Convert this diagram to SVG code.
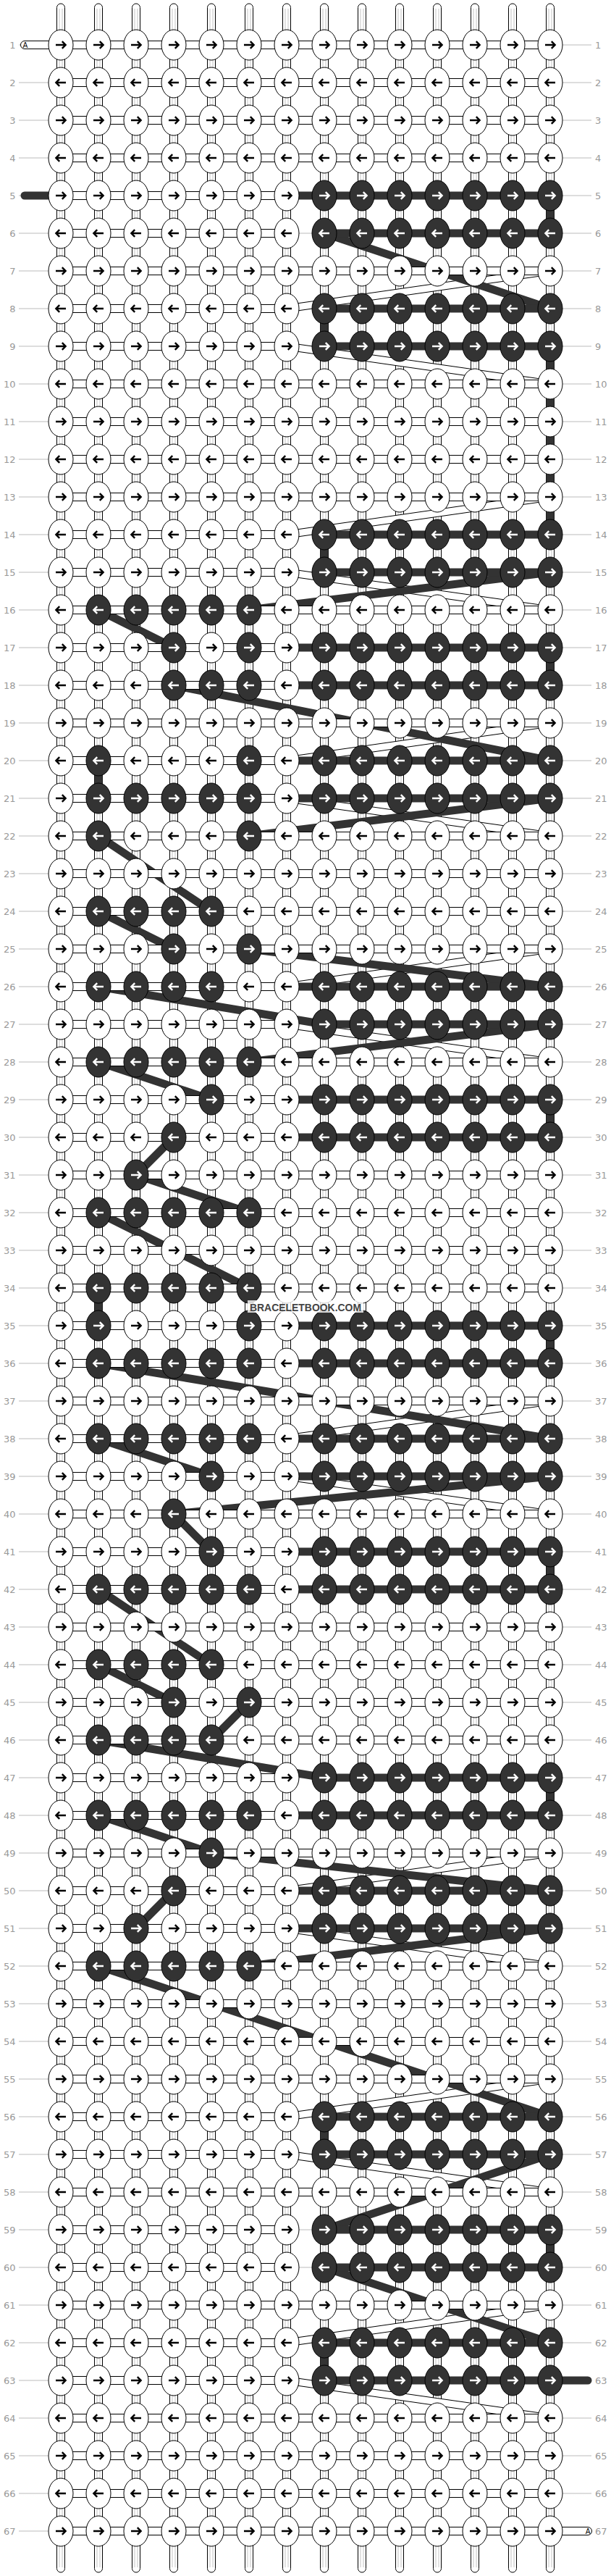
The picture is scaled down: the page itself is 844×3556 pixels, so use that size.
<svg xmlns="http://www.w3.org/2000/svg" width="844" height="3556" viewBox="0 0 844 3556">
<style>
.lb{font-family:"DejaVu Sans",sans-serif;font-size:13px;fill:#999}
.ll{text-anchor:end}
.st{fill:#fff;stroke:#000;stroke-width:1}
.wa{fill:#fff;stroke:#000;stroke-width:1}
.db{fill:#333}
.tg{font-family:"DejaVu Sans",sans-serif;font-size:10px}
</style>
<defs>
<path id="ar" d="M-7,0H6M1.8,-4.8L6.6,0L1.8,4.8" fill="none" stroke-width="2.4"/>
<g id="a"><ellipse rx="17" ry="21" fill="#fff" stroke="#000"/><use href="#ar" stroke="#000"/></g>
<g id="b"><ellipse rx="17" ry="21" fill="#fff" stroke="#000"/><use href="#ar" stroke="#000" transform="scale(-1,1)"/></g>
<g id="c"><ellipse rx="17" ry="21" fill="#333" stroke="#000"/><use href="#ar" stroke="#fff"/></g>
<g id="d"><ellipse rx="17" ry="21" fill="#333" stroke="#000"/><use href="#ar" stroke="#fff" transform="scale(-1,1)"/></g>
<path id="AD" d="M760,374L396,426M396,478L760,530M760,686L396,738M396,790L760,842M760,998L396,1050M396,1102L760,1154M760,1310L396,1362M396,1414L760,1466M760,1934L396,1986M396,2038L760,2090M760,2558L396,2610M396,2662L760,2714M760,2870L396,2922M396,2974L760,3026M760,3182L396,3234M396,3286L760,3338"/>
</defs>
<rect width="844" height="3556" fill="#fff"/>
<g id="rowlines"><path fill="none" stroke="#bbb" stroke-width="1" d="M26,62H817M26,114H817M26,166H817M26,218H817M26,270H817M26,322H817M26,374H817M26,426H817M26,478H817M26,530H817M26,582H817M26,634H817M26,686H817M26,738H817M26,790H817M26,842H817M26,894H817M26,946H817M26,998H817M26,1050H817M26,1102H817M26,1154H817M26,1206H817M26,1258H817M26,1310H817M26,1362H817M26,1414H817M26,1466H817M26,1518H817M26,1570H817M26,1622H817M26,1674H817M26,1726H817M26,1778H817M26,1830H817M26,1882H817M26,1934H817M26,1986H817M26,2038H817M26,2090H817M26,2142H817M26,2194H817M26,2246H817M26,2298H817M26,2350H817M26,2402H817M26,2454H817M26,2506H817M26,2558H817M26,2610H817M26,2662H817M26,2714H817M26,2766H817M26,2818H817M26,2870H817M26,2922H817M26,2974H817M26,3026H817M26,3078H817M26,3130H817M26,3182H817M26,3234H817M26,3286H817M26,3338H817M26,3390H817M26,3442H817M26,3494H817"/></g>
<g id="labels" class="lb">
<g class="ll"><text x="21.5" y="66.5">1</text><text x="21.5" y="118.5">2</text><text x="21.5" y="170.5">3</text><text x="21.5" y="222.5">4</text><text x="21.5" y="274.5">5</text><text x="21.5" y="326.5">6</text><text x="21.5" y="378.5">7</text><text x="21.5" y="430.5">8</text><text x="21.5" y="482.5">9</text><text x="21.5" y="534.5">10</text><text x="21.5" y="586.5">11</text><text x="21.5" y="638.5">12</text><text x="21.5" y="690.5">13</text><text x="21.5" y="742.5">14</text><text x="21.5" y="794.5">15</text><text x="21.5" y="846.5">16</text><text x="21.5" y="898.5">17</text><text x="21.5" y="950.5">18</text><text x="21.5" y="1002.5">19</text><text x="21.5" y="1054.5">20</text><text x="21.5" y="1106.5">21</text><text x="21.5" y="1158.5">22</text><text x="21.5" y="1210.5">23</text><text x="21.5" y="1262.5">24</text><text x="21.5" y="1314.5">25</text><text x="21.5" y="1366.5">26</text><text x="21.5" y="1418.5">27</text><text x="21.5" y="1470.5">28</text><text x="21.5" y="1522.5">29</text><text x="21.5" y="1574.5">30</text><text x="21.5" y="1626.5">31</text><text x="21.5" y="1678.5">32</text><text x="21.5" y="1730.5">33</text><text x="21.5" y="1782.5">34</text><text x="21.5" y="1834.5">35</text><text x="21.5" y="1886.5">36</text><text x="21.5" y="1938.5">37</text><text x="21.5" y="1990.5">38</text><text x="21.5" y="2042.5">39</text><text x="21.5" y="2094.5">40</text><text x="21.5" y="2146.5">41</text><text x="21.5" y="2198.5">42</text><text x="21.5" y="2250.5">43</text><text x="21.5" y="2302.5">44</text><text x="21.5" y="2354.5">45</text><text x="21.5" y="2406.5">46</text><text x="21.5" y="2458.5">47</text><text x="21.5" y="2510.5">48</text><text x="21.5" y="2562.5">49</text><text x="21.5" y="2614.5">50</text><text x="21.5" y="2666.5">51</text><text x="21.5" y="2718.5">52</text><text x="21.5" y="2770.5">53</text><text x="21.5" y="2822.5">54</text><text x="21.5" y="2874.5">55</text><text x="21.5" y="2926.5">56</text><text x="21.5" y="2978.5">57</text><text x="21.5" y="3030.5">58</text><text x="21.5" y="3082.5">59</text><text x="21.5" y="3134.5">60</text><text x="21.5" y="3186.5">61</text><text x="21.5" y="3238.5">62</text><text x="21.5" y="3290.5">63</text><text x="21.5" y="3342.5">64</text><text x="21.5" y="3394.5">65</text><text x="21.5" y="3446.5">66</text><text x="21.5" y="3498.5">67</text></g>
<g><text x="822" y="66.5">1</text><text x="822" y="118.5">2</text><text x="822" y="170.5">3</text><text x="822" y="222.5">4</text><text x="822" y="274.5">5</text><text x="822" y="326.5">6</text><text x="822" y="378.5">7</text><text x="822" y="430.5">8</text><text x="822" y="482.5">9</text><text x="822" y="534.5">10</text><text x="822" y="586.5">11</text><text x="822" y="638.5">12</text><text x="822" y="690.5">13</text><text x="822" y="742.5">14</text><text x="822" y="794.5">15</text><text x="822" y="846.5">16</text><text x="822" y="898.5">17</text><text x="822" y="950.5">18</text><text x="822" y="1002.5">19</text><text x="822" y="1054.5">20</text><text x="822" y="1106.5">21</text><text x="822" y="1158.5">22</text><text x="822" y="1210.5">23</text><text x="822" y="1262.5">24</text><text x="822" y="1314.5">25</text><text x="822" y="1366.5">26</text><text x="822" y="1418.5">27</text><text x="822" y="1470.5">28</text><text x="822" y="1522.5">29</text><text x="822" y="1574.5">30</text><text x="822" y="1626.5">31</text><text x="822" y="1678.5">32</text><text x="822" y="1730.5">33</text><text x="822" y="1782.5">34</text><text x="822" y="1834.5">35</text><text x="822" y="1886.5">36</text><text x="822" y="1938.5">37</text><text x="822" y="1990.5">38</text><text x="822" y="2042.5">39</text><text x="822" y="2094.5">40</text><text x="822" y="2146.5">41</text><text x="822" y="2198.5">42</text><text x="822" y="2250.5">43</text><text x="822" y="2302.5">44</text><text x="822" y="2354.5">45</text><text x="822" y="2406.5">46</text><text x="822" y="2458.5">47</text><text x="822" y="2510.5">48</text><text x="822" y="2562.5">49</text><text x="822" y="2614.5">50</text><text x="822" y="2666.5">51</text><text x="822" y="2718.5">52</text><text x="822" y="2770.5">53</text><text x="822" y="2822.5">54</text><text x="822" y="2874.5">55</text><text x="822" y="2926.5">56</text><text x="822" y="2978.5">57</text><text x="822" y="3030.5">58</text><text x="822" y="3082.5">59</text><text x="822" y="3134.5">60</text><text x="822" y="3186.5">61</text><text x="822" y="3238.5">62</text><text x="822" y="3290.5">63</text><text x="822" y="3342.5">64</text><text x="822" y="3394.5">65</text><text x="822" y="3446.5">66</text><text x="822" y="3498.5">67</text></g>
</g>
<g id="strings">
<g class="st"><rect x="78.5" y="5" width="11" height="3546" rx="5.5"/><rect x="130.5" y="5" width="11" height="3546" rx="5.5"/><rect x="182.5" y="5" width="11" height="3546" rx="5.5"/><rect x="234.5" y="5" width="11" height="3546" rx="5.5"/><rect x="286.5" y="5" width="11" height="3546" rx="5.5"/><rect x="338.5" y="5" width="11" height="3546" rx="5.5"/><rect x="390.5" y="5" width="11" height="3546" rx="5.5"/><rect x="442.5" y="5" width="11" height="3546" rx="5.5"/><rect x="494.5" y="5" width="11" height="3546" rx="5.5"/><rect x="546.5" y="5" width="11" height="3546" rx="5.5"/><rect x="598.5" y="5" width="11" height="3546" rx="5.5"/><rect x="650.5" y="5" width="11" height="3546" rx="5.5"/><rect x="702.5" y="5" width="11" height="3546" rx="5.5"/><rect x="754.5" y="5" width="11" height="3546" rx="5.5"/></g>
<path fill="none" stroke="#c4c4c4" stroke-width="1" d="M82,12V3544M86,12V3544M134,12V3544M138,12V3544M186,12V3544M190,12V3544M238,12V3544M242,12V3544M290,12V3544M294,12V3544M342,12V3544M346,12V3544M394,12V3544M398,12V3544M446,12V3544M450,12V3544M498,12V3544M502,12V3544M550,12V3544M554,12V3544M602,12V3544M606,12V3544M654,12V3544M658,12V3544M706,12V3544M710,12V3544M758,12V3544M762,12V3544"/>
</g>
<g id="connectors">
<use href="#AD" fill="none" stroke="#000" stroke-width="11"/>
<use href="#AD" fill="none" stroke="#fff" stroke-width="9"/>
<path fill="none" stroke="#333" stroke-width="11" d="M760,270V322M448,322L760,426M448,426V478M760,478V738M448,738V790M760,790L344,842M136,842L240,894M760,894V946M240,946L760,1050M136,1050V1102M760,1102L344,1154M136,1154L292,1258M136,1258L240,1310M344,1310L760,1362M136,1362L448,1414M760,1414L344,1466M136,1466L292,1518M760,1518V1570M240,1570L188,1622M188,1622L344,1674M136,1674L344,1778M136,1778V1830M760,1830V1882M136,1882L760,1986M136,1986L292,2038M760,2038L240,2090M240,2090L292,2142M760,2142V2194M136,2194L292,2298M136,2298L240,2350M344,2350L292,2402M136,2402L448,2454M760,2454V2506M136,2506L292,2558M292,2558L760,2610M240,2610L188,2662M760,2662L344,2714M136,2714L760,2922M448,2922V2974M760,2974L448,3078M760,3078V3130M448,3130L760,3234M448,3234V3286"/>
<g class="db">
<rect x="28.5" y="264.5" width="731.5" height="11" rx="5.5"/>
<rect x="448" y="316.5" width="312" height="11"/>
<rect x="448" y="420.5" width="312" height="11"/>
<rect x="448" y="472.5" width="312" height="11"/>
<rect x="448" y="732.5" width="312" height="11"/>
<rect x="448" y="784.5" width="312" height="11"/>
<rect x="240" y="888.5" width="520" height="11"/>
<rect x="240" y="940.5" width="520" height="11"/>
<rect x="136" y="1044.5" width="624" height="11"/>
<rect x="136" y="1096.5" width="624" height="11"/>
<rect x="136" y="1356.5" width="624" height="11"/>
<rect x="448" y="1408.5" width="312" height="11"/>
<rect x="292" y="1512.5" width="468" height="11"/>
<rect x="240" y="1564.5" width="520" height="11"/>
<rect x="136" y="1824.5" width="624" height="11"/>
<rect x="136" y="1876.5" width="624" height="11"/>
<rect x="136" y="1980.5" width="624" height="11"/>
<rect x="292" y="2032.5" width="468" height="11"/>
<rect x="292" y="2136.5" width="468" height="11"/>
<rect x="136" y="2188.5" width="624" height="11"/>
<rect x="448" y="2448.5" width="312" height="11"/>
<rect x="136" y="2500.5" width="624" height="11"/>
<rect x="240" y="2604.5" width="520" height="11"/>
<rect x="188" y="2656.5" width="572" height="11"/>
<rect x="448" y="2916.5" width="312" height="11"/>
<rect x="448" y="2968.5" width="312" height="11"/>
<rect x="448" y="3072.5" width="312" height="11"/>
<rect x="448" y="3124.5" width="312" height="11"/>
<rect x="448" y="3228.5" width="312" height="11"/>
<rect x="448" y="3280.5" width="369.5" height="11" rx="5.5"/>
</g>
<g class="wa">
<rect x="28.5" y="56.5" width="731.5" height="11" rx="5.5"/>
<rect x="84" y="108.5" width="676" height="11"/>
<rect x="84" y="160.5" width="676" height="11"/>
<rect x="84" y="212.5" width="676" height="11"/>
<rect x="84" y="264.5" width="312" height="11"/>
<rect x="84" y="316.5" width="312" height="11"/>
<rect x="84" y="368.5" width="676" height="11"/>
<rect x="84" y="420.5" width="312" height="11"/>
<rect x="84" y="472.5" width="312" height="11"/>
<rect x="84" y="524.5" width="676" height="11"/>
<rect x="84" y="576.5" width="676" height="11"/>
<rect x="84" y="628.5" width="676" height="11"/>
<rect x="84" y="680.5" width="676" height="11"/>
<rect x="84" y="732.5" width="312" height="11"/>
<rect x="84" y="784.5" width="312" height="11"/>
<rect x="84" y="836.5" width="676" height="11"/>
<rect x="84" y="888.5" width="312" height="11"/>
<rect x="84" y="940.5" width="312" height="11"/>
<rect x="84" y="992.5" width="676" height="11"/>
<rect x="84" y="1044.5" width="312" height="11"/>
<rect x="84" y="1096.5" width="312" height="11"/>
<rect x="84" y="1148.5" width="676" height="11"/>
<rect x="84" y="1200.5" width="676" height="11"/>
<rect x="84" y="1252.5" width="676" height="11"/>
<rect x="84" y="1304.5" width="676" height="11"/>
<rect x="84" y="1356.5" width="312" height="11"/>
<rect x="84" y="1408.5" width="312" height="11"/>
<rect x="84" y="1460.5" width="676" height="11"/>
<rect x="84" y="1512.5" width="312" height="11"/>
<rect x="84" y="1564.5" width="312" height="11"/>
<rect x="84" y="1616.5" width="676" height="11"/>
<rect x="84" y="1668.5" width="676" height="11"/>
<rect x="84" y="1720.5" width="676" height="11"/>
<rect x="84" y="1772.5" width="676" height="11"/>
<rect x="84" y="1824.5" width="312" height="11"/>
<rect x="84" y="1876.5" width="312" height="11"/>
<rect x="84" y="1928.5" width="676" height="11"/>
<rect x="84" y="1980.5" width="312" height="11"/>
<rect x="84" y="2032.5" width="312" height="11"/>
<rect x="84" y="2084.5" width="676" height="11"/>
<rect x="84" y="2136.5" width="312" height="11"/>
<rect x="84" y="2188.5" width="312" height="11"/>
<rect x="84" y="2240.5" width="676" height="11"/>
<rect x="84" y="2292.5" width="676" height="11"/>
<rect x="84" y="2344.5" width="676" height="11"/>
<rect x="84" y="2396.5" width="676" height="11"/>
<rect x="84" y="2448.5" width="312" height="11"/>
<rect x="84" y="2500.5" width="312" height="11"/>
<rect x="84" y="2552.5" width="676" height="11"/>
<rect x="84" y="2604.5" width="312" height="11"/>
<rect x="84" y="2656.5" width="312" height="11"/>
<rect x="84" y="2708.5" width="676" height="11"/>
<rect x="84" y="2760.5" width="676" height="11"/>
<rect x="84" y="2812.5" width="676" height="11"/>
<rect x="84" y="2864.5" width="676" height="11"/>
<rect x="84" y="2916.5" width="312" height="11"/>
<rect x="84" y="2968.5" width="312" height="11"/>
<rect x="84" y="3020.5" width="676" height="11"/>
<rect x="84" y="3072.5" width="312" height="11"/>
<rect x="84" y="3124.5" width="312" height="11"/>
<rect x="84" y="3176.5" width="676" height="11"/>
<rect x="84" y="3228.5" width="312" height="11"/>
<rect x="84" y="3280.5" width="312" height="11"/>
<rect x="84" y="3332.5" width="676" height="11"/>
<rect x="84" y="3384.5" width="676" height="11"/>
<rect x="84" y="3436.5" width="676" height="11"/>
<rect x="84" y="3488.5" width="733.5" height="11" rx="5.5"/>
</g>
<text class="tg" x="31.5" y="65.8">A</text>
<text class="tg" x="815.5" y="3497.8" text-anchor="end">A</text>
</g>
<g id="knots">
<g id="row1" transform="translate(0,62)"><g id="n1_1"><use href="#a" x="84"/></g><g id="n1_2"><use href="#a" x="136"/></g><g id="n1_3"><use href="#a" x="188"/></g><g id="n1_4"><use href="#a" x="240"/></g><g id="n1_5"><use href="#a" x="292"/></g><g id="n1_6"><use href="#a" x="344"/></g><g id="n1_7"><use href="#a" x="396"/></g><g id="n1_8"><use href="#a" x="448"/></g><g id="n1_9"><use href="#a" x="500"/></g><g id="n1_10"><use href="#a" x="552"/></g><g id="n1_11"><use href="#a" x="604"/></g><g id="n1_12"><use href="#a" x="656"/></g><g id="n1_13"><use href="#a" x="708"/></g><g id="n1_14"><use href="#a" x="760"/></g></g>
<g id="row2" transform="translate(0,114)"><g id="n2_1"><use href="#b" x="84"/></g><g id="n2_2"><use href="#b" x="136"/></g><g id="n2_3"><use href="#b" x="188"/></g><g id="n2_4"><use href="#b" x="240"/></g><g id="n2_5"><use href="#b" x="292"/></g><g id="n2_6"><use href="#b" x="344"/></g><g id="n2_7"><use href="#b" x="396"/></g><g id="n2_8"><use href="#b" x="448"/></g><g id="n2_9"><use href="#b" x="500"/></g><g id="n2_10"><use href="#b" x="552"/></g><g id="n2_11"><use href="#b" x="604"/></g><g id="n2_12"><use href="#b" x="656"/></g><g id="n2_13"><use href="#b" x="708"/></g><g id="n2_14"><use href="#b" x="760"/></g></g>
<g id="row3" transform="translate(0,166)"><g id="n3_1"><use href="#a" x="84"/></g><g id="n3_2"><use href="#a" x="136"/></g><g id="n3_3"><use href="#a" x="188"/></g><g id="n3_4"><use href="#a" x="240"/></g><g id="n3_5"><use href="#a" x="292"/></g><g id="n3_6"><use href="#a" x="344"/></g><g id="n3_7"><use href="#a" x="396"/></g><g id="n3_8"><use href="#a" x="448"/></g><g id="n3_9"><use href="#a" x="500"/></g><g id="n3_10"><use href="#a" x="552"/></g><g id="n3_11"><use href="#a" x="604"/></g><g id="n3_12"><use href="#a" x="656"/></g><g id="n3_13"><use href="#a" x="708"/></g><g id="n3_14"><use href="#a" x="760"/></g></g>
<g id="row4" transform="translate(0,218)"><g id="n4_1"><use href="#b" x="84"/></g><g id="n4_2"><use href="#b" x="136"/></g><g id="n4_3"><use href="#b" x="188"/></g><g id="n4_4"><use href="#b" x="240"/></g><g id="n4_5"><use href="#b" x="292"/></g><g id="n4_6"><use href="#b" x="344"/></g><g id="n4_7"><use href="#b" x="396"/></g><g id="n4_8"><use href="#b" x="448"/></g><g id="n4_9"><use href="#b" x="500"/></g><g id="n4_10"><use href="#b" x="552"/></g><g id="n4_11"><use href="#b" x="604"/></g><g id="n4_12"><use href="#b" x="656"/></g><g id="n4_13"><use href="#b" x="708"/></g><g id="n4_14"><use href="#b" x="760"/></g></g>
<g id="row5" transform="translate(0,270)"><g id="n5_1"><use href="#a" x="84"/></g><g id="n5_2"><use href="#a" x="136"/></g><g id="n5_3"><use href="#a" x="188"/></g><g id="n5_4"><use href="#a" x="240"/></g><g id="n5_5"><use href="#a" x="292"/></g><g id="n5_6"><use href="#a" x="344"/></g><g id="n5_7"><use href="#a" x="396"/></g><g id="n5_8"><use href="#c" x="448"/></g><g id="n5_9"><use href="#c" x="500"/></g><g id="n5_10"><use href="#c" x="552"/></g><g id="n5_11"><use href="#c" x="604"/></g><g id="n5_12"><use href="#c" x="656"/></g><g id="n5_13"><use href="#c" x="708"/></g><g id="n5_14"><use href="#c" x="760"/></g></g>
<g id="row6" transform="translate(0,322)"><g id="n6_1"><use href="#b" x="84"/></g><g id="n6_2"><use href="#b" x="136"/></g><g id="n6_3"><use href="#b" x="188"/></g><g id="n6_4"><use href="#b" x="240"/></g><g id="n6_5"><use href="#b" x="292"/></g><g id="n6_6"><use href="#b" x="344"/></g><g id="n6_7"><use href="#b" x="396"/></g><g id="n6_8"><use href="#d" x="448"/></g><g id="n6_9"><use href="#d" x="500"/></g><g id="n6_10"><use href="#d" x="552"/></g><g id="n6_11"><use href="#d" x="604"/></g><g id="n6_12"><use href="#d" x="656"/></g><g id="n6_13"><use href="#d" x="708"/></g><g id="n6_14"><use href="#d" x="760"/></g></g>
<g id="row7" transform="translate(0,374)"><g id="n7_1"><use href="#a" x="84"/></g><g id="n7_2"><use href="#a" x="136"/></g><g id="n7_3"><use href="#a" x="188"/></g><g id="n7_4"><use href="#a" x="240"/></g><g id="n7_5"><use href="#a" x="292"/></g><g id="n7_6"><use href="#a" x="344"/></g><g id="n7_7"><use href="#a" x="396"/></g><g id="n7_8"><use href="#a" x="448"/></g><g id="n7_9"><use href="#a" x="500"/></g><g id="n7_10"><use href="#a" x="552"/></g><g id="n7_11"><use href="#a" x="604"/></g><g id="n7_12"><use href="#a" x="656"/></g><g id="n7_13"><use href="#a" x="708"/></g><g id="n7_14"><use href="#a" x="760"/></g></g>
<g id="row8" transform="translate(0,426)"><g id="n8_1"><use href="#b" x="84"/></g><g id="n8_2"><use href="#b" x="136"/></g><g id="n8_3"><use href="#b" x="188"/></g><g id="n8_4"><use href="#b" x="240"/></g><g id="n8_5"><use href="#b" x="292"/></g><g id="n8_6"><use href="#b" x="344"/></g><g id="n8_7"><use href="#b" x="396"/></g><g id="n8_8"><use href="#d" x="448"/></g><g id="n8_9"><use href="#d" x="500"/></g><g id="n8_10"><use href="#d" x="552"/></g><g id="n8_11"><use href="#d" x="604"/></g><g id="n8_12"><use href="#d" x="656"/></g><g id="n8_13"><use href="#d" x="708"/></g><g id="n8_14"><use href="#d" x="760"/></g></g>
<g id="row9" transform="translate(0,478)"><g id="n9_1"><use href="#a" x="84"/></g><g id="n9_2"><use href="#a" x="136"/></g><g id="n9_3"><use href="#a" x="188"/></g><g id="n9_4"><use href="#a" x="240"/></g><g id="n9_5"><use href="#a" x="292"/></g><g id="n9_6"><use href="#a" x="344"/></g><g id="n9_7"><use href="#a" x="396"/></g><g id="n9_8"><use href="#c" x="448"/></g><g id="n9_9"><use href="#c" x="500"/></g><g id="n9_10"><use href="#c" x="552"/></g><g id="n9_11"><use href="#c" x="604"/></g><g id="n9_12"><use href="#c" x="656"/></g><g id="n9_13"><use href="#c" x="708"/></g><g id="n9_14"><use href="#c" x="760"/></g></g>
<g id="row10" transform="translate(0,530)"><g id="n10_1"><use href="#b" x="84"/></g><g id="n10_2"><use href="#b" x="136"/></g><g id="n10_3"><use href="#b" x="188"/></g><g id="n10_4"><use href="#b" x="240"/></g><g id="n10_5"><use href="#b" x="292"/></g><g id="n10_6"><use href="#b" x="344"/></g><g id="n10_7"><use href="#b" x="396"/></g><g id="n10_8"><use href="#b" x="448"/></g><g id="n10_9"><use href="#b" x="500"/></g><g id="n10_10"><use href="#b" x="552"/></g><g id="n10_11"><use href="#b" x="604"/></g><g id="n10_12"><use href="#b" x="656"/></g><g id="n10_13"><use href="#b" x="708"/></g><g id="n10_14"><use href="#b" x="760"/></g></g>
<g id="row11" transform="translate(0,582)"><g id="n11_1"><use href="#a" x="84"/></g><g id="n11_2"><use href="#a" x="136"/></g><g id="n11_3"><use href="#a" x="188"/></g><g id="n11_4"><use href="#a" x="240"/></g><g id="n11_5"><use href="#a" x="292"/></g><g id="n11_6"><use href="#a" x="344"/></g><g id="n11_7"><use href="#a" x="396"/></g><g id="n11_8"><use href="#a" x="448"/></g><g id="n11_9"><use href="#a" x="500"/></g><g id="n11_10"><use href="#a" x="552"/></g><g id="n11_11"><use href="#a" x="604"/></g><g id="n11_12"><use href="#a" x="656"/></g><g id="n11_13"><use href="#a" x="708"/></g><g id="n11_14"><use href="#a" x="760"/></g></g>
<g id="row12" transform="translate(0,634)"><g id="n12_1"><use href="#b" x="84"/></g><g id="n12_2"><use href="#b" x="136"/></g><g id="n12_3"><use href="#b" x="188"/></g><g id="n12_4"><use href="#b" x="240"/></g><g id="n12_5"><use href="#b" x="292"/></g><g id="n12_6"><use href="#b" x="344"/></g><g id="n12_7"><use href="#b" x="396"/></g><g id="n12_8"><use href="#b" x="448"/></g><g id="n12_9"><use href="#b" x="500"/></g><g id="n12_10"><use href="#b" x="552"/></g><g id="n12_11"><use href="#b" x="604"/></g><g id="n12_12"><use href="#b" x="656"/></g><g id="n12_13"><use href="#b" x="708"/></g><g id="n12_14"><use href="#b" x="760"/></g></g>
<g id="row13" transform="translate(0,686)"><g id="n13_1"><use href="#a" x="84"/></g><g id="n13_2"><use href="#a" x="136"/></g><g id="n13_3"><use href="#a" x="188"/></g><g id="n13_4"><use href="#a" x="240"/></g><g id="n13_5"><use href="#a" x="292"/></g><g id="n13_6"><use href="#a" x="344"/></g><g id="n13_7"><use href="#a" x="396"/></g><g id="n13_8"><use href="#a" x="448"/></g><g id="n13_9"><use href="#a" x="500"/></g><g id="n13_10"><use href="#a" x="552"/></g><g id="n13_11"><use href="#a" x="604"/></g><g id="n13_12"><use href="#a" x="656"/></g><g id="n13_13"><use href="#a" x="708"/></g><g id="n13_14"><use href="#a" x="760"/></g></g>
<g id="row14" transform="translate(0,738)"><g id="n14_1"><use href="#b" x="84"/></g><g id="n14_2"><use href="#b" x="136"/></g><g id="n14_3"><use href="#b" x="188"/></g><g id="n14_4"><use href="#b" x="240"/></g><g id="n14_5"><use href="#b" x="292"/></g><g id="n14_6"><use href="#b" x="344"/></g><g id="n14_7"><use href="#b" x="396"/></g><g id="n14_8"><use href="#d" x="448"/></g><g id="n14_9"><use href="#d" x="500"/></g><g id="n14_10"><use href="#d" x="552"/></g><g id="n14_11"><use href="#d" x="604"/></g><g id="n14_12"><use href="#d" x="656"/></g><g id="n14_13"><use href="#d" x="708"/></g><g id="n14_14"><use href="#d" x="760"/></g></g>
<g id="row15" transform="translate(0,790)"><g id="n15_1"><use href="#a" x="84"/></g><g id="n15_2"><use href="#a" x="136"/></g><g id="n15_3"><use href="#a" x="188"/></g><g id="n15_4"><use href="#a" x="240"/></g><g id="n15_5"><use href="#a" x="292"/></g><g id="n15_6"><use href="#a" x="344"/></g><g id="n15_7"><use href="#a" x="396"/></g><g id="n15_8"><use href="#c" x="448"/></g><g id="n15_9"><use href="#c" x="500"/></g><g id="n15_10"><use href="#c" x="552"/></g><g id="n15_11"><use href="#c" x="604"/></g><g id="n15_12"><use href="#c" x="656"/></g><g id="n15_13"><use href="#c" x="708"/></g><g id="n15_14"><use href="#c" x="760"/></g></g>
<g id="row16" transform="translate(0,842)"><g id="n16_1"><use href="#b" x="84"/></g><g id="n16_2"><use href="#d" x="136"/></g><g id="n16_3"><use href="#d" x="188"/></g><g id="n16_4"><use href="#d" x="240"/></g><g id="n16_5"><use href="#d" x="292"/></g><g id="n16_6"><use href="#d" x="344"/></g><g id="n16_7"><use href="#b" x="396"/></g><g id="n16_8"><use href="#b" x="448"/></g><g id="n16_9"><use href="#b" x="500"/></g><g id="n16_10"><use href="#b" x="552"/></g><g id="n16_11"><use href="#b" x="604"/></g><g id="n16_12"><use href="#b" x="656"/></g><g id="n16_13"><use href="#b" x="708"/></g><g id="n16_14"><use href="#b" x="760"/></g></g>
<g id="row17" transform="translate(0,894)"><g id="n17_1"><use href="#a" x="84"/></g><g id="n17_2"><use href="#a" x="136"/></g><g id="n17_3"><use href="#a" x="188"/></g><g id="n17_4"><use href="#c" x="240"/></g><g id="n17_5"><use href="#a" x="292"/></g><g id="n17_6"><use href="#c" x="344"/></g><g id="n17_7"><use href="#a" x="396"/></g><g id="n17_8"><use href="#c" x="448"/></g><g id="n17_9"><use href="#c" x="500"/></g><g id="n17_10"><use href="#c" x="552"/></g><g id="n17_11"><use href="#c" x="604"/></g><g id="n17_12"><use href="#c" x="656"/></g><g id="n17_13"><use href="#c" x="708"/></g><g id="n17_14"><use href="#c" x="760"/></g></g>
<g id="row18" transform="translate(0,946)"><g id="n18_1"><use href="#b" x="84"/></g><g id="n18_2"><use href="#b" x="136"/></g><g id="n18_3"><use href="#b" x="188"/></g><g id="n18_4"><use href="#d" x="240"/></g><g id="n18_5"><use href="#d" x="292"/></g><g id="n18_6"><use href="#d" x="344"/></g><g id="n18_7"><use href="#b" x="396"/></g><g id="n18_8"><use href="#d" x="448"/></g><g id="n18_9"><use href="#d" x="500"/></g><g id="n18_10"><use href="#d" x="552"/></g><g id="n18_11"><use href="#d" x="604"/></g><g id="n18_12"><use href="#d" x="656"/></g><g id="n18_13"><use href="#d" x="708"/></g><g id="n18_14"><use href="#d" x="760"/></g></g>
<g id="row19" transform="translate(0,998)"><g id="n19_1"><use href="#a" x="84"/></g><g id="n19_2"><use href="#a" x="136"/></g><g id="n19_3"><use href="#a" x="188"/></g><g id="n19_4"><use href="#a" x="240"/></g><g id="n19_5"><use href="#a" x="292"/></g><g id="n19_6"><use href="#a" x="344"/></g><g id="n19_7"><use href="#a" x="396"/></g><g id="n19_8"><use href="#a" x="448"/></g><g id="n19_9"><use href="#a" x="500"/></g><g id="n19_10"><use href="#a" x="552"/></g><g id="n19_11"><use href="#a" x="604"/></g><g id="n19_12"><use href="#a" x="656"/></g><g id="n19_13"><use href="#a" x="708"/></g><g id="n19_14"><use href="#a" x="760"/></g></g>
<g id="row20" transform="translate(0,1050)"><g id="n20_1"><use href="#b" x="84"/></g><g id="n20_2"><use href="#d" x="136"/></g><g id="n20_3"><use href="#b" x="188"/></g><g id="n20_4"><use href="#b" x="240"/></g><g id="n20_5"><use href="#b" x="292"/></g><g id="n20_6"><use href="#d" x="344"/></g><g id="n20_7"><use href="#b" x="396"/></g><g id="n20_8"><use href="#d" x="448"/></g><g id="n20_9"><use href="#d" x="500"/></g><g id="n20_10"><use href="#d" x="552"/></g><g id="n20_11"><use href="#d" x="604"/></g><g id="n20_12"><use href="#d" x="656"/></g><g id="n20_13"><use href="#d" x="708"/></g><g id="n20_14"><use href="#d" x="760"/></g></g>
<g id="row21" transform="translate(0,1102)"><g id="n21_1"><use href="#a" x="84"/></g><g id="n21_2"><use href="#c" x="136"/></g><g id="n21_3"><use href="#c" x="188"/></g><g id="n21_4"><use href="#c" x="240"/></g><g id="n21_5"><use href="#c" x="292"/></g><g id="n21_6"><use href="#c" x="344"/></g><g id="n21_7"><use href="#a" x="396"/></g><g id="n21_8"><use href="#c" x="448"/></g><g id="n21_9"><use href="#c" x="500"/></g><g id="n21_10"><use href="#c" x="552"/></g><g id="n21_11"><use href="#c" x="604"/></g><g id="n21_12"><use href="#c" x="656"/></g><g id="n21_13"><use href="#c" x="708"/></g><g id="n21_14"><use href="#c" x="760"/></g></g>
<g id="row22" transform="translate(0,1154)"><g id="n22_1"><use href="#b" x="84"/></g><g id="n22_2"><use href="#d" x="136"/></g><g id="n22_3"><use href="#b" x="188"/></g><g id="n22_4"><use href="#b" x="240"/></g><g id="n22_5"><use href="#b" x="292"/></g><g id="n22_6"><use href="#d" x="344"/></g><g id="n22_7"><use href="#b" x="396"/></g><g id="n22_8"><use href="#b" x="448"/></g><g id="n22_9"><use href="#b" x="500"/></g><g id="n22_10"><use href="#b" x="552"/></g><g id="n22_11"><use href="#b" x="604"/></g><g id="n22_12"><use href="#b" x="656"/></g><g id="n22_13"><use href="#b" x="708"/></g><g id="n22_14"><use href="#b" x="760"/></g></g>
<g id="row23" transform="translate(0,1206)"><g id="n23_1"><use href="#a" x="84"/></g><g id="n23_2"><use href="#a" x="136"/></g><g id="n23_3"><use href="#a" x="188"/></g><g id="n23_4"><use href="#a" x="240"/></g><g id="n23_5"><use href="#a" x="292"/></g><g id="n23_6"><use href="#a" x="344"/></g><g id="n23_7"><use href="#a" x="396"/></g><g id="n23_8"><use href="#a" x="448"/></g><g id="n23_9"><use href="#a" x="500"/></g><g id="n23_10"><use href="#a" x="552"/></g><g id="n23_11"><use href="#a" x="604"/></g><g id="n23_12"><use href="#a" x="656"/></g><g id="n23_13"><use href="#a" x="708"/></g><g id="n23_14"><use href="#a" x="760"/></g></g>
<g id="row24" transform="translate(0,1258)"><g id="n24_1"><use href="#b" x="84"/></g><g id="n24_2"><use href="#d" x="136"/></g><g id="n24_3"><use href="#d" x="188"/></g><g id="n24_4"><use href="#d" x="240"/></g><g id="n24_5"><use href="#d" x="292"/></g><g id="n24_6"><use href="#b" x="344"/></g><g id="n24_7"><use href="#b" x="396"/></g><g id="n24_8"><use href="#b" x="448"/></g><g id="n24_9"><use href="#b" x="500"/></g><g id="n24_10"><use href="#b" x="552"/></g><g id="n24_11"><use href="#b" x="604"/></g><g id="n24_12"><use href="#b" x="656"/></g><g id="n24_13"><use href="#b" x="708"/></g><g id="n24_14"><use href="#b" x="760"/></g></g>
<g id="row25" transform="translate(0,1310)"><g id="n25_1"><use href="#a" x="84"/></g><g id="n25_2"><use href="#a" x="136"/></g><g id="n25_3"><use href="#a" x="188"/></g><g id="n25_4"><use href="#c" x="240"/></g><g id="n25_5"><use href="#a" x="292"/></g><g id="n25_6"><use href="#c" x="344"/></g><g id="n25_7"><use href="#a" x="396"/></g><g id="n25_8"><use href="#a" x="448"/></g><g id="n25_9"><use href="#a" x="500"/></g><g id="n25_10"><use href="#a" x="552"/></g><g id="n25_11"><use href="#a" x="604"/></g><g id="n25_12"><use href="#a" x="656"/></g><g id="n25_13"><use href="#a" x="708"/></g><g id="n25_14"><use href="#a" x="760"/></g></g>
<g id="row26" transform="translate(0,1362)"><g id="n26_1"><use href="#b" x="84"/></g><g id="n26_2"><use href="#d" x="136"/></g><g id="n26_3"><use href="#d" x="188"/></g><g id="n26_4"><use href="#d" x="240"/></g><g id="n26_5"><use href="#d" x="292"/></g><g id="n26_6"><use href="#b" x="344"/></g><g id="n26_7"><use href="#b" x="396"/></g><g id="n26_8"><use href="#d" x="448"/></g><g id="n26_9"><use href="#d" x="500"/></g><g id="n26_10"><use href="#d" x="552"/></g><g id="n26_11"><use href="#d" x="604"/></g><g id="n26_12"><use href="#d" x="656"/></g><g id="n26_13"><use href="#d" x="708"/></g><g id="n26_14"><use href="#d" x="760"/></g></g>
<g id="row27" transform="translate(0,1414)"><g id="n27_1"><use href="#a" x="84"/></g><g id="n27_2"><use href="#a" x="136"/></g><g id="n27_3"><use href="#a" x="188"/></g><g id="n27_4"><use href="#a" x="240"/></g><g id="n27_5"><use href="#a" x="292"/></g><g id="n27_6"><use href="#a" x="344"/></g><g id="n27_7"><use href="#a" x="396"/></g><g id="n27_8"><use href="#c" x="448"/></g><g id="n27_9"><use href="#c" x="500"/></g><g id="n27_10"><use href="#c" x="552"/></g><g id="n27_11"><use href="#c" x="604"/></g><g id="n27_12"><use href="#c" x="656"/></g><g id="n27_13"><use href="#c" x="708"/></g><g id="n27_14"><use href="#c" x="760"/></g></g>
<g id="row28" transform="translate(0,1466)"><g id="n28_1"><use href="#b" x="84"/></g><g id="n28_2"><use href="#d" x="136"/></g><g id="n28_3"><use href="#d" x="188"/></g><g id="n28_4"><use href="#d" x="240"/></g><g id="n28_5"><use href="#d" x="292"/></g><g id="n28_6"><use href="#d" x="344"/></g><g id="n28_7"><use href="#b" x="396"/></g><g id="n28_8"><use href="#b" x="448"/></g><g id="n28_9"><use href="#b" x="500"/></g><g id="n28_10"><use href="#b" x="552"/></g><g id="n28_11"><use href="#b" x="604"/></g><g id="n28_12"><use href="#b" x="656"/></g><g id="n28_13"><use href="#b" x="708"/></g><g id="n28_14"><use href="#b" x="760"/></g></g>
<g id="row29" transform="translate(0,1518)"><g id="n29_1"><use href="#a" x="84"/></g><g id="n29_2"><use href="#a" x="136"/></g><g id="n29_3"><use href="#a" x="188"/></g><g id="n29_4"><use href="#a" x="240"/></g><g id="n29_5"><use href="#c" x="292"/></g><g id="n29_6"><use href="#a" x="344"/></g><g id="n29_7"><use href="#a" x="396"/></g><g id="n29_8"><use href="#c" x="448"/></g><g id="n29_9"><use href="#c" x="500"/></g><g id="n29_10"><use href="#c" x="552"/></g><g id="n29_11"><use href="#c" x="604"/></g><g id="n29_12"><use href="#c" x="656"/></g><g id="n29_13"><use href="#c" x="708"/></g><g id="n29_14"><use href="#c" x="760"/></g></g>
<g id="row30" transform="translate(0,1570)"><g id="n30_1"><use href="#b" x="84"/></g><g id="n30_2"><use href="#b" x="136"/></g><g id="n30_3"><use href="#b" x="188"/></g><g id="n30_4"><use href="#d" x="240"/></g><g id="n30_5"><use href="#b" x="292"/></g><g id="n30_6"><use href="#b" x="344"/></g><g id="n30_7"><use href="#b" x="396"/></g><g id="n30_8"><use href="#d" x="448"/></g><g id="n30_9"><use href="#d" x="500"/></g><g id="n30_10"><use href="#d" x="552"/></g><g id="n30_11"><use href="#d" x="604"/></g><g id="n30_12"><use href="#d" x="656"/></g><g id="n30_13"><use href="#d" x="708"/></g><g id="n30_14"><use href="#d" x="760"/></g></g>
<g id="row31" transform="translate(0,1622)"><g id="n31_1"><use href="#a" x="84"/></g><g id="n31_2"><use href="#a" x="136"/></g><g id="n31_3"><use href="#c" x="188"/></g><g id="n31_4"><use href="#a" x="240"/></g><g id="n31_5"><use href="#a" x="292"/></g><g id="n31_6"><use href="#a" x="344"/></g><g id="n31_7"><use href="#a" x="396"/></g><g id="n31_8"><use href="#a" x="448"/></g><g id="n31_9"><use href="#a" x="500"/></g><g id="n31_10"><use href="#a" x="552"/></g><g id="n31_11"><use href="#a" x="604"/></g><g id="n31_12"><use href="#a" x="656"/></g><g id="n31_13"><use href="#a" x="708"/></g><g id="n31_14"><use href="#a" x="760"/></g></g>
<g id="row32" transform="translate(0,1674)"><g id="n32_1"><use href="#b" x="84"/></g><g id="n32_2"><use href="#d" x="136"/></g><g id="n32_3"><use href="#d" x="188"/></g><g id="n32_4"><use href="#d" x="240"/></g><g id="n32_5"><use href="#d" x="292"/></g><g id="n32_6"><use href="#d" x="344"/></g><g id="n32_7"><use href="#b" x="396"/></g><g id="n32_8"><use href="#b" x="448"/></g><g id="n32_9"><use href="#b" x="500"/></g><g id="n32_10"><use href="#b" x="552"/></g><g id="n32_11"><use href="#b" x="604"/></g><g id="n32_12"><use href="#b" x="656"/></g><g id="n32_13"><use href="#b" x="708"/></g><g id="n32_14"><use href="#b" x="760"/></g></g>
<g id="row33" transform="translate(0,1726)"><g id="n33_1"><use href="#a" x="84"/></g><g id="n33_2"><use href="#a" x="136"/></g><g id="n33_3"><use href="#a" x="188"/></g><g id="n33_4"><use href="#a" x="240"/></g><g id="n33_5"><use href="#a" x="292"/></g><g id="n33_6"><use href="#a" x="344"/></g><g id="n33_7"><use href="#a" x="396"/></g><g id="n33_8"><use href="#a" x="448"/></g><g id="n33_9"><use href="#a" x="500"/></g><g id="n33_10"><use href="#a" x="552"/></g><g id="n33_11"><use href="#a" x="604"/></g><g id="n33_12"><use href="#a" x="656"/></g><g id="n33_13"><use href="#a" x="708"/></g><g id="n33_14"><use href="#a" x="760"/></g></g>
<g id="row34" transform="translate(0,1778)"><g id="n34_1"><use href="#b" x="84"/></g><g id="n34_2"><use href="#d" x="136"/></g><g id="n34_3"><use href="#d" x="188"/></g><g id="n34_4"><use href="#d" x="240"/></g><g id="n34_5"><use href="#d" x="292"/></g><g id="n34_6"><use href="#d" x="344"/></g><g id="n34_7"><use href="#b" x="396"/></g><g id="n34_8"><use href="#b" x="448"/></g><g id="n34_9"><use href="#b" x="500"/></g><g id="n34_10"><use href="#b" x="552"/></g><g id="n34_11"><use href="#b" x="604"/></g><g id="n34_12"><use href="#b" x="656"/></g><g id="n34_13"><use href="#b" x="708"/></g><g id="n34_14"><use href="#b" x="760"/></g></g>
<g id="row35" transform="translate(0,1830)"><g id="n35_1"><use href="#a" x="84"/></g><g id="n35_2"><use href="#c" x="136"/></g><g id="n35_3"><use href="#a" x="188"/></g><g id="n35_4"><use href="#a" x="240"/></g><g id="n35_5"><use href="#a" x="292"/></g><g id="n35_6"><use href="#c" x="344"/></g><g id="n35_7"><use href="#a" x="396"/></g><g id="n35_8"><use href="#c" x="448"/></g><g id="n35_9"><use href="#c" x="500"/></g><g id="n35_10"><use href="#c" x="552"/></g><g id="n35_11"><use href="#c" x="604"/></g><g id="n35_12"><use href="#c" x="656"/></g><g id="n35_13"><use href="#c" x="708"/></g><g id="n35_14"><use href="#c" x="760"/></g></g>
<g id="row36" transform="translate(0,1882)"><g id="n36_1"><use href="#b" x="84"/></g><g id="n36_2"><use href="#d" x="136"/></g><g id="n36_3"><use href="#d" x="188"/></g><g id="n36_4"><use href="#d" x="240"/></g><g id="n36_5"><use href="#d" x="292"/></g><g id="n36_6"><use href="#d" x="344"/></g><g id="n36_7"><use href="#b" x="396"/></g><g id="n36_8"><use href="#d" x="448"/></g><g id="n36_9"><use href="#d" x="500"/></g><g id="n36_10"><use href="#d" x="552"/></g><g id="n36_11"><use href="#d" x="604"/></g><g id="n36_12"><use href="#d" x="656"/></g><g id="n36_13"><use href="#d" x="708"/></g><g id="n36_14"><use href="#d" x="760"/></g></g>
<g id="row37" transform="translate(0,1934)"><g id="n37_1"><use href="#a" x="84"/></g><g id="n37_2"><use href="#a" x="136"/></g><g id="n37_3"><use href="#a" x="188"/></g><g id="n37_4"><use href="#a" x="240"/></g><g id="n37_5"><use href="#a" x="292"/></g><g id="n37_6"><use href="#a" x="344"/></g><g id="n37_7"><use href="#a" x="396"/></g><g id="n37_8"><use href="#a" x="448"/></g><g id="n37_9"><use href="#a" x="500"/></g><g id="n37_10"><use href="#a" x="552"/></g><g id="n37_11"><use href="#a" x="604"/></g><g id="n37_12"><use href="#a" x="656"/></g><g id="n37_13"><use href="#a" x="708"/></g><g id="n37_14"><use href="#a" x="760"/></g></g>
<g id="row38" transform="translate(0,1986)"><g id="n38_1"><use href="#b" x="84"/></g><g id="n38_2"><use href="#d" x="136"/></g><g id="n38_3"><use href="#d" x="188"/></g><g id="n38_4"><use href="#d" x="240"/></g><g id="n38_5"><use href="#d" x="292"/></g><g id="n38_6"><use href="#d" x="344"/></g><g id="n38_7"><use href="#b" x="396"/></g><g id="n38_8"><use href="#d" x="448"/></g><g id="n38_9"><use href="#d" x="500"/></g><g id="n38_10"><use href="#d" x="552"/></g><g id="n38_11"><use href="#d" x="604"/></g><g id="n38_12"><use href="#d" x="656"/></g><g id="n38_13"><use href="#d" x="708"/></g><g id="n38_14"><use href="#d" x="760"/></g></g>
<g id="row39" transform="translate(0,2038)"><g id="n39_1"><use href="#a" x="84"/></g><g id="n39_2"><use href="#a" x="136"/></g><g id="n39_3"><use href="#a" x="188"/></g><g id="n39_4"><use href="#a" x="240"/></g><g id="n39_5"><use href="#c" x="292"/></g><g id="n39_6"><use href="#a" x="344"/></g><g id="n39_7"><use href="#a" x="396"/></g><g id="n39_8"><use href="#c" x="448"/></g><g id="n39_9"><use href="#c" x="500"/></g><g id="n39_10"><use href="#c" x="552"/></g><g id="n39_11"><use href="#c" x="604"/></g><g id="n39_12"><use href="#c" x="656"/></g><g id="n39_13"><use href="#c" x="708"/></g><g id="n39_14"><use href="#c" x="760"/></g></g>
<g id="row40" transform="translate(0,2090)"><g id="n40_1"><use href="#b" x="84"/></g><g id="n40_2"><use href="#b" x="136"/></g><g id="n40_3"><use href="#b" x="188"/></g><g id="n40_4"><use href="#d" x="240"/></g><g id="n40_5"><use href="#b" x="292"/></g><g id="n40_6"><use href="#b" x="344"/></g><g id="n40_7"><use href="#b" x="396"/></g><g id="n40_8"><use href="#b" x="448"/></g><g id="n40_9"><use href="#b" x="500"/></g><g id="n40_10"><use href="#b" x="552"/></g><g id="n40_11"><use href="#b" x="604"/></g><g id="n40_12"><use href="#b" x="656"/></g><g id="n40_13"><use href="#b" x="708"/></g><g id="n40_14"><use href="#b" x="760"/></g></g>
<g id="row41" transform="translate(0,2142)"><g id="n41_1"><use href="#a" x="84"/></g><g id="n41_2"><use href="#a" x="136"/></g><g id="n41_3"><use href="#a" x="188"/></g><g id="n41_4"><use href="#a" x="240"/></g><g id="n41_5"><use href="#c" x="292"/></g><g id="n41_6"><use href="#a" x="344"/></g><g id="n41_7"><use href="#a" x="396"/></g><g id="n41_8"><use href="#c" x="448"/></g><g id="n41_9"><use href="#c" x="500"/></g><g id="n41_10"><use href="#c" x="552"/></g><g id="n41_11"><use href="#c" x="604"/></g><g id="n41_12"><use href="#c" x="656"/></g><g id="n41_13"><use href="#c" x="708"/></g><g id="n41_14"><use href="#c" x="760"/></g></g>
<g id="row42" transform="translate(0,2194)"><g id="n42_1"><use href="#b" x="84"/></g><g id="n42_2"><use href="#d" x="136"/></g><g id="n42_3"><use href="#d" x="188"/></g><g id="n42_4"><use href="#d" x="240"/></g><g id="n42_5"><use href="#d" x="292"/></g><g id="n42_6"><use href="#d" x="344"/></g><g id="n42_7"><use href="#b" x="396"/></g><g id="n42_8"><use href="#d" x="448"/></g><g id="n42_9"><use href="#d" x="500"/></g><g id="n42_10"><use href="#d" x="552"/></g><g id="n42_11"><use href="#d" x="604"/></g><g id="n42_12"><use href="#d" x="656"/></g><g id="n42_13"><use href="#d" x="708"/></g><g id="n42_14"><use href="#d" x="760"/></g></g>
<g id="row43" transform="translate(0,2246)"><g id="n43_1"><use href="#a" x="84"/></g><g id="n43_2"><use href="#a" x="136"/></g><g id="n43_3"><use href="#a" x="188"/></g><g id="n43_4"><use href="#a" x="240"/></g><g id="n43_5"><use href="#a" x="292"/></g><g id="n43_6"><use href="#a" x="344"/></g><g id="n43_7"><use href="#a" x="396"/></g><g id="n43_8"><use href="#a" x="448"/></g><g id="n43_9"><use href="#a" x="500"/></g><g id="n43_10"><use href="#a" x="552"/></g><g id="n43_11"><use href="#a" x="604"/></g><g id="n43_12"><use href="#a" x="656"/></g><g id="n43_13"><use href="#a" x="708"/></g><g id="n43_14"><use href="#a" x="760"/></g></g>
<g id="row44" transform="translate(0,2298)"><g id="n44_1"><use href="#b" x="84"/></g><g id="n44_2"><use href="#d" x="136"/></g><g id="n44_3"><use href="#d" x="188"/></g><g id="n44_4"><use href="#d" x="240"/></g><g id="n44_5"><use href="#d" x="292"/></g><g id="n44_6"><use href="#b" x="344"/></g><g id="n44_7"><use href="#b" x="396"/></g><g id="n44_8"><use href="#b" x="448"/></g><g id="n44_9"><use href="#b" x="500"/></g><g id="n44_10"><use href="#b" x="552"/></g><g id="n44_11"><use href="#b" x="604"/></g><g id="n44_12"><use href="#b" x="656"/></g><g id="n44_13"><use href="#b" x="708"/></g><g id="n44_14"><use href="#b" x="760"/></g></g>
<g id="row45" transform="translate(0,2350)"><g id="n45_1"><use href="#a" x="84"/></g><g id="n45_2"><use href="#a" x="136"/></g><g id="n45_3"><use href="#a" x="188"/></g><g id="n45_4"><use href="#c" x="240"/></g><g id="n45_5"><use href="#a" x="292"/></g><g id="n45_6"><use href="#c" x="344"/></g><g id="n45_7"><use href="#a" x="396"/></g><g id="n45_8"><use href="#a" x="448"/></g><g id="n45_9"><use href="#a" x="500"/></g><g id="n45_10"><use href="#a" x="552"/></g><g id="n45_11"><use href="#a" x="604"/></g><g id="n45_12"><use href="#a" x="656"/></g><g id="n45_13"><use href="#a" x="708"/></g><g id="n45_14"><use href="#a" x="760"/></g></g>
<g id="row46" transform="translate(0,2402)"><g id="n46_1"><use href="#b" x="84"/></g><g id="n46_2"><use href="#d" x="136"/></g><g id="n46_3"><use href="#d" x="188"/></g><g id="n46_4"><use href="#d" x="240"/></g><g id="n46_5"><use href="#d" x="292"/></g><g id="n46_6"><use href="#b" x="344"/></g><g id="n46_7"><use href="#b" x="396"/></g><g id="n46_8"><use href="#b" x="448"/></g><g id="n46_9"><use href="#b" x="500"/></g><g id="n46_10"><use href="#b" x="552"/></g><g id="n46_11"><use href="#b" x="604"/></g><g id="n46_12"><use href="#b" x="656"/></g><g id="n46_13"><use href="#b" x="708"/></g><g id="n46_14"><use href="#b" x="760"/></g></g>
<g id="row47" transform="translate(0,2454)"><g id="n47_1"><use href="#a" x="84"/></g><g id="n47_2"><use href="#a" x="136"/></g><g id="n47_3"><use href="#a" x="188"/></g><g id="n47_4"><use href="#a" x="240"/></g><g id="n47_5"><use href="#a" x="292"/></g><g id="n47_6"><use href="#a" x="344"/></g><g id="n47_7"><use href="#a" x="396"/></g><g id="n47_8"><use href="#c" x="448"/></g><g id="n47_9"><use href="#c" x="500"/></g><g id="n47_10"><use href="#c" x="552"/></g><g id="n47_11"><use href="#c" x="604"/></g><g id="n47_12"><use href="#c" x="656"/></g><g id="n47_13"><use href="#c" x="708"/></g><g id="n47_14"><use href="#c" x="760"/></g></g>
<g id="row48" transform="translate(0,2506)"><g id="n48_1"><use href="#b" x="84"/></g><g id="n48_2"><use href="#d" x="136"/></g><g id="n48_3"><use href="#d" x="188"/></g><g id="n48_4"><use href="#d" x="240"/></g><g id="n48_5"><use href="#d" x="292"/></g><g id="n48_6"><use href="#d" x="344"/></g><g id="n48_7"><use href="#b" x="396"/></g><g id="n48_8"><use href="#d" x="448"/></g><g id="n48_9"><use href="#d" x="500"/></g><g id="n48_10"><use href="#d" x="552"/></g><g id="n48_11"><use href="#d" x="604"/></g><g id="n48_12"><use href="#d" x="656"/></g><g id="n48_13"><use href="#d" x="708"/></g><g id="n48_14"><use href="#d" x="760"/></g></g>
<g id="row49" transform="translate(0,2558)"><g id="n49_1"><use href="#a" x="84"/></g><g id="n49_2"><use href="#a" x="136"/></g><g id="n49_3"><use href="#a" x="188"/></g><g id="n49_4"><use href="#a" x="240"/></g><g id="n49_5"><use href="#c" x="292"/></g><g id="n49_6"><use href="#a" x="344"/></g><g id="n49_7"><use href="#a" x="396"/></g><g id="n49_8"><use href="#a" x="448"/></g><g id="n49_9"><use href="#a" x="500"/></g><g id="n49_10"><use href="#a" x="552"/></g><g id="n49_11"><use href="#a" x="604"/></g><g id="n49_12"><use href="#a" x="656"/></g><g id="n49_13"><use href="#a" x="708"/></g><g id="n49_14"><use href="#a" x="760"/></g></g>
<g id="row50" transform="translate(0,2610)"><g id="n50_1"><use href="#b" x="84"/></g><g id="n50_2"><use href="#b" x="136"/></g><g id="n50_3"><use href="#b" x="188"/></g><g id="n50_4"><use href="#d" x="240"/></g><g id="n50_5"><use href="#b" x="292"/></g><g id="n50_6"><use href="#b" x="344"/></g><g id="n50_7"><use href="#b" x="396"/></g><g id="n50_8"><use href="#d" x="448"/></g><g id="n50_9"><use href="#d" x="500"/></g><g id="n50_10"><use href="#d" x="552"/></g><g id="n50_11"><use href="#d" x="604"/></g><g id="n50_12"><use href="#d" x="656"/></g><g id="n50_13"><use href="#d" x="708"/></g><g id="n50_14"><use href="#d" x="760"/></g></g>
<g id="row51" transform="translate(0,2662)"><g id="n51_1"><use href="#a" x="84"/></g><g id="n51_2"><use href="#a" x="136"/></g><g id="n51_3"><use href="#c" x="188"/></g><g id="n51_4"><use href="#a" x="240"/></g><g id="n51_5"><use href="#a" x="292"/></g><g id="n51_6"><use href="#a" x="344"/></g><g id="n51_7"><use href="#a" x="396"/></g><g id="n51_8"><use href="#c" x="448"/></g><g id="n51_9"><use href="#c" x="500"/></g><g id="n51_10"><use href="#c" x="552"/></g><g id="n51_11"><use href="#c" x="604"/></g><g id="n51_12"><use href="#c" x="656"/></g><g id="n51_13"><use href="#c" x="708"/></g><g id="n51_14"><use href="#c" x="760"/></g></g>
<g id="row52" transform="translate(0,2714)"><g id="n52_1"><use href="#b" x="84"/></g><g id="n52_2"><use href="#d" x="136"/></g><g id="n52_3"><use href="#d" x="188"/></g><g id="n52_4"><use href="#d" x="240"/></g><g id="n52_5"><use href="#d" x="292"/></g><g id="n52_6"><use href="#d" x="344"/></g><g id="n52_7"><use href="#b" x="396"/></g><g id="n52_8"><use href="#b" x="448"/></g><g id="n52_9"><use href="#b" x="500"/></g><g id="n52_10"><use href="#b" x="552"/></g><g id="n52_11"><use href="#b" x="604"/></g><g id="n52_12"><use href="#b" x="656"/></g><g id="n52_13"><use href="#b" x="708"/></g><g id="n52_14"><use href="#b" x="760"/></g></g>
<g id="row53" transform="translate(0,2766)"><g id="n53_1"><use href="#a" x="84"/></g><g id="n53_2"><use href="#a" x="136"/></g><g id="n53_3"><use href="#a" x="188"/></g><g id="n53_4"><use href="#a" x="240"/></g><g id="n53_5"><use href="#a" x="292"/></g><g id="n53_6"><use href="#a" x="344"/></g><g id="n53_7"><use href="#a" x="396"/></g><g id="n53_8"><use href="#a" x="448"/></g><g id="n53_9"><use href="#a" x="500"/></g><g id="n53_10"><use href="#a" x="552"/></g><g id="n53_11"><use href="#a" x="604"/></g><g id="n53_12"><use href="#a" x="656"/></g><g id="n53_13"><use href="#a" x="708"/></g><g id="n53_14"><use href="#a" x="760"/></g></g>
<g id="row54" transform="translate(0,2818)"><g id="n54_1"><use href="#b" x="84"/></g><g id="n54_2"><use href="#b" x="136"/></g><g id="n54_3"><use href="#b" x="188"/></g><g id="n54_4"><use href="#b" x="240"/></g><g id="n54_5"><use href="#b" x="292"/></g><g id="n54_6"><use href="#b" x="344"/></g><g id="n54_7"><use href="#b" x="396"/></g><g id="n54_8"><use href="#b" x="448"/></g><g id="n54_9"><use href="#b" x="500"/></g><g id="n54_10"><use href="#b" x="552"/></g><g id="n54_11"><use href="#b" x="604"/></g><g id="n54_12"><use href="#b" x="656"/></g><g id="n54_13"><use href="#b" x="708"/></g><g id="n54_14"><use href="#b" x="760"/></g></g>
<g id="row55" transform="translate(0,2870)"><g id="n55_1"><use href="#a" x="84"/></g><g id="n55_2"><use href="#a" x="136"/></g><g id="n55_3"><use href="#a" x="188"/></g><g id="n55_4"><use href="#a" x="240"/></g><g id="n55_5"><use href="#a" x="292"/></g><g id="n55_6"><use href="#a" x="344"/></g><g id="n55_7"><use href="#a" x="396"/></g><g id="n55_8"><use href="#a" x="448"/></g><g id="n55_9"><use href="#a" x="500"/></g><g id="n55_10"><use href="#a" x="552"/></g><g id="n55_11"><use href="#a" x="604"/></g><g id="n55_12"><use href="#a" x="656"/></g><g id="n55_13"><use href="#a" x="708"/></g><g id="n55_14"><use href="#a" x="760"/></g></g>
<g id="row56" transform="translate(0,2922)"><g id="n56_1"><use href="#b" x="84"/></g><g id="n56_2"><use href="#b" x="136"/></g><g id="n56_3"><use href="#b" x="188"/></g><g id="n56_4"><use href="#b" x="240"/></g><g id="n56_5"><use href="#b" x="292"/></g><g id="n56_6"><use href="#b" x="344"/></g><g id="n56_7"><use href="#b" x="396"/></g><g id="n56_8"><use href="#d" x="448"/></g><g id="n56_9"><use href="#d" x="500"/></g><g id="n56_10"><use href="#d" x="552"/></g><g id="n56_11"><use href="#d" x="604"/></g><g id="n56_12"><use href="#d" x="656"/></g><g id="n56_13"><use href="#d" x="708"/></g><g id="n56_14"><use href="#d" x="760"/></g></g>
<g id="row57" transform="translate(0,2974)"><g id="n57_1"><use href="#a" x="84"/></g><g id="n57_2"><use href="#a" x="136"/></g><g id="n57_3"><use href="#a" x="188"/></g><g id="n57_4"><use href="#a" x="240"/></g><g id="n57_5"><use href="#a" x="292"/></g><g id="n57_6"><use href="#a" x="344"/></g><g id="n57_7"><use href="#a" x="396"/></g><g id="n57_8"><use href="#c" x="448"/></g><g id="n57_9"><use href="#c" x="500"/></g><g id="n57_10"><use href="#c" x="552"/></g><g id="n57_11"><use href="#c" x="604"/></g><g id="n57_12"><use href="#c" x="656"/></g><g id="n57_13"><use href="#c" x="708"/></g><g id="n57_14"><use href="#c" x="760"/></g></g>
<g id="row58" transform="translate(0,3026)"><g id="n58_1"><use href="#b" x="84"/></g><g id="n58_2"><use href="#b" x="136"/></g><g id="n58_3"><use href="#b" x="188"/></g><g id="n58_4"><use href="#b" x="240"/></g><g id="n58_5"><use href="#b" x="292"/></g><g id="n58_6"><use href="#b" x="344"/></g><g id="n58_7"><use href="#b" x="396"/></g><g id="n58_8"><use href="#b" x="448"/></g><g id="n58_9"><use href="#b" x="500"/></g><g id="n58_10"><use href="#b" x="552"/></g><g id="n58_11"><use href="#b" x="604"/></g><g id="n58_12"><use href="#b" x="656"/></g><g id="n58_13"><use href="#b" x="708"/></g><g id="n58_14"><use href="#b" x="760"/></g></g>
<g id="row59" transform="translate(0,3078)"><g id="n59_1"><use href="#a" x="84"/></g><g id="n59_2"><use href="#a" x="136"/></g><g id="n59_3"><use href="#a" x="188"/></g><g id="n59_4"><use href="#a" x="240"/></g><g id="n59_5"><use href="#a" x="292"/></g><g id="n59_6"><use href="#a" x="344"/></g><g id="n59_7"><use href="#a" x="396"/></g><g id="n59_8"><use href="#c" x="448"/></g><g id="n59_9"><use href="#c" x="500"/></g><g id="n59_10"><use href="#c" x="552"/></g><g id="n59_11"><use href="#c" x="604"/></g><g id="n59_12"><use href="#c" x="656"/></g><g id="n59_13"><use href="#c" x="708"/></g><g id="n59_14"><use href="#c" x="760"/></g></g>
<g id="row60" transform="translate(0,3130)"><g id="n60_1"><use href="#b" x="84"/></g><g id="n60_2"><use href="#b" x="136"/></g><g id="n60_3"><use href="#b" x="188"/></g><g id="n60_4"><use href="#b" x="240"/></g><g id="n60_5"><use href="#b" x="292"/></g><g id="n60_6"><use href="#b" x="344"/></g><g id="n60_7"><use href="#b" x="396"/></g><g id="n60_8"><use href="#d" x="448"/></g><g id="n60_9"><use href="#d" x="500"/></g><g id="n60_10"><use href="#d" x="552"/></g><g id="n60_11"><use href="#d" x="604"/></g><g id="n60_12"><use href="#d" x="656"/></g><g id="n60_13"><use href="#d" x="708"/></g><g id="n60_14"><use href="#d" x="760"/></g></g>
<g id="row61" transform="translate(0,3182)"><g id="n61_1"><use href="#a" x="84"/></g><g id="n61_2"><use href="#a" x="136"/></g><g id="n61_3"><use href="#a" x="188"/></g><g id="n61_4"><use href="#a" x="240"/></g><g id="n61_5"><use href="#a" x="292"/></g><g id="n61_6"><use href="#a" x="344"/></g><g id="n61_7"><use href="#a" x="396"/></g><g id="n61_8"><use href="#a" x="448"/></g><g id="n61_9"><use href="#a" x="500"/></g><g id="n61_10"><use href="#a" x="552"/></g><g id="n61_11"><use href="#a" x="604"/></g><g id="n61_12"><use href="#a" x="656"/></g><g id="n61_13"><use href="#a" x="708"/></g><g id="n61_14"><use href="#a" x="760"/></g></g>
<g id="row62" transform="translate(0,3234)"><g id="n62_1"><use href="#b" x="84"/></g><g id="n62_2"><use href="#b" x="136"/></g><g id="n62_3"><use href="#b" x="188"/></g><g id="n62_4"><use href="#b" x="240"/></g><g id="n62_5"><use href="#b" x="292"/></g><g id="n62_6"><use href="#b" x="344"/></g><g id="n62_7"><use href="#b" x="396"/></g><g id="n62_8"><use href="#d" x="448"/></g><g id="n62_9"><use href="#d" x="500"/></g><g id="n62_10"><use href="#d" x="552"/></g><g id="n62_11"><use href="#d" x="604"/></g><g id="n62_12"><use href="#d" x="656"/></g><g id="n62_13"><use href="#d" x="708"/></g><g id="n62_14"><use href="#d" x="760"/></g></g>
<g id="row63" transform="translate(0,3286)"><g id="n63_1"><use href="#a" x="84"/></g><g id="n63_2"><use href="#a" x="136"/></g><g id="n63_3"><use href="#a" x="188"/></g><g id="n63_4"><use href="#a" x="240"/></g><g id="n63_5"><use href="#a" x="292"/></g><g id="n63_6"><use href="#a" x="344"/></g><g id="n63_7"><use href="#a" x="396"/></g><g id="n63_8"><use href="#c" x="448"/></g><g id="n63_9"><use href="#c" x="500"/></g><g id="n63_10"><use href="#c" x="552"/></g><g id="n63_11"><use href="#c" x="604"/></g><g id="n63_12"><use href="#c" x="656"/></g><g id="n63_13"><use href="#c" x="708"/></g><g id="n63_14"><use href="#c" x="760"/></g></g>
<g id="row64" transform="translate(0,3338)"><g id="n64_1"><use href="#b" x="84"/></g><g id="n64_2"><use href="#b" x="136"/></g><g id="n64_3"><use href="#b" x="188"/></g><g id="n64_4"><use href="#b" x="240"/></g><g id="n64_5"><use href="#b" x="292"/></g><g id="n64_6"><use href="#b" x="344"/></g><g id="n64_7"><use href="#b" x="396"/></g><g id="n64_8"><use href="#b" x="448"/></g><g id="n64_9"><use href="#b" x="500"/></g><g id="n64_10"><use href="#b" x="552"/></g><g id="n64_11"><use href="#b" x="604"/></g><g id="n64_12"><use href="#b" x="656"/></g><g id="n64_13"><use href="#b" x="708"/></g><g id="n64_14"><use href="#b" x="760"/></g></g>
<g id="row65" transform="translate(0,3390)"><g id="n65_1"><use href="#a" x="84"/></g><g id="n65_2"><use href="#a" x="136"/></g><g id="n65_3"><use href="#a" x="188"/></g><g id="n65_4"><use href="#a" x="240"/></g><g id="n65_5"><use href="#a" x="292"/></g><g id="n65_6"><use href="#a" x="344"/></g><g id="n65_7"><use href="#a" x="396"/></g><g id="n65_8"><use href="#a" x="448"/></g><g id="n65_9"><use href="#a" x="500"/></g><g id="n65_10"><use href="#a" x="552"/></g><g id="n65_11"><use href="#a" x="604"/></g><g id="n65_12"><use href="#a" x="656"/></g><g id="n65_13"><use href="#a" x="708"/></g><g id="n65_14"><use href="#a" x="760"/></g></g>
<g id="row66" transform="translate(0,3442)"><g id="n66_1"><use href="#b" x="84"/></g><g id="n66_2"><use href="#b" x="136"/></g><g id="n66_3"><use href="#b" x="188"/></g><g id="n66_4"><use href="#b" x="240"/></g><g id="n66_5"><use href="#b" x="292"/></g><g id="n66_6"><use href="#b" x="344"/></g><g id="n66_7"><use href="#b" x="396"/></g><g id="n66_8"><use href="#b" x="448"/></g><g id="n66_9"><use href="#b" x="500"/></g><g id="n66_10"><use href="#b" x="552"/></g><g id="n66_11"><use href="#b" x="604"/></g><g id="n66_12"><use href="#b" x="656"/></g><g id="n66_13"><use href="#b" x="708"/></g><g id="n66_14"><use href="#b" x="760"/></g></g>
<g id="row67" transform="translate(0,3494)"><g id="n67_1"><use href="#a" x="84"/></g><g id="n67_2"><use href="#a" x="136"/></g><g id="n67_3"><use href="#a" x="188"/></g><g id="n67_4"><use href="#a" x="240"/></g><g id="n67_5"><use href="#a" x="292"/></g><g id="n67_6"><use href="#a" x="344"/></g><g id="n67_7"><use href="#a" x="396"/></g><g id="n67_8"><use href="#a" x="448"/></g><g id="n67_9"><use href="#a" x="500"/></g><g id="n67_10"><use href="#a" x="552"/></g><g id="n67_11"><use href="#a" x="604"/></g><g id="n67_12"><use href="#a" x="656"/></g><g id="n67_13"><use href="#a" x="708"/></g><g id="n67_14"><use href="#a" x="760"/></g></g>
</g>
<g id="watermark">
<rect x="342" y="1795" width="160" height="17" fill="#fff" opacity="0.8"/>
<text x="345" y="1809.5" font-family="Liberation Sans, Arial, sans-serif" font-weight="bold" font-size="15" fill="#444" textLength="154" lengthAdjust="spacingAndGlyphs">BRACELETBOOK.COM</text>
</g>
</svg>
